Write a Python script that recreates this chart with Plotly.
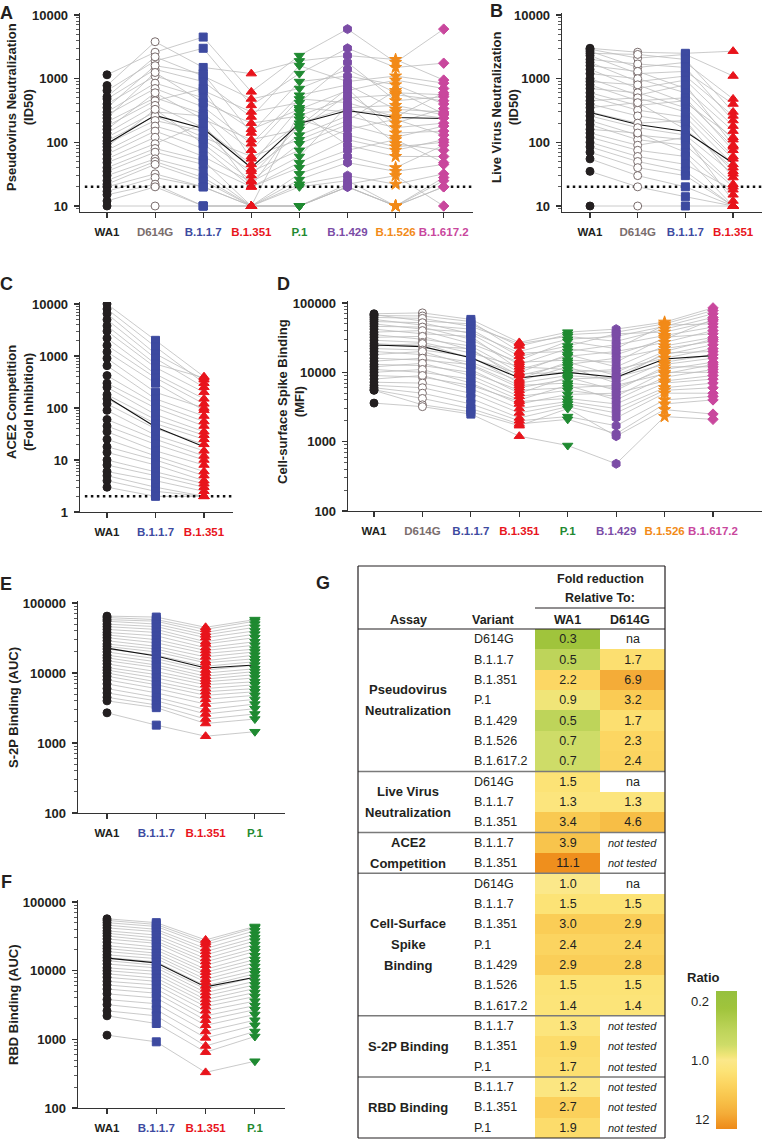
import math
import plotly.graph_objects as go

W, H = 762, 1139


def px_x(p):
    return p / W


def px_y(p):
    return 1 - p / H


# ---------------- data ----------------
pseudo_variants = ["WA1", "D614G", "B.1.1.7", "B.1.351", "P.1", "B.1.429", "B.1.526", "B.1.617.2"]
pseudo_rows = [
    [1150, 2600, 4500, 620, 2300, 6000, 1800, 6000],
    [780, 3800, 1500, 1200, 1900, 2300, 2000, 950],
    [650, 1900, 3000, 380, 1200, 3000, 1500, 1750],
    [520, 2200, 1100, 480, 700, 1400, 600, 560],
    [480, 1400, 900, 250, 1600, 900, 1100, 850],
    [400, 1100, 650, 300, 420, 1800, 450, 520],
    [350, 1600, 1200, 140, 900, 1100, 800, 400],
    [300, 850, 500, 160, 330, 650, 950, 700],
    [270, 700, 360, 95, 550, 800, 330, 300],
    [240, 1250, 420, 200, 260, 500, 560, 450],
    [210, 500, 280, 75, 480, 420, 250, 600],
    [180, 450, 700, 55, 200, 350, 380, 270],
    [160, 600, 230, 110, 160, 560, 200, 340],
    [140, 380, 170, 45, 350, 300, 300, 240],
    [120, 300, 260, 38, 130, 260, 170, 200],
    [105, 260, 120, 60, 110, 220, 650, 280],
    [95, 220, 150, 30, 180, 700, 140, 150],
    [85, 330, 95, 25, 95, 190, 120, 180],
    [75, 180, 110, 35, 75, 160, 230, 130],
    [65, 150, 80, 20, 230, 130, 85, 100],
    [55, 120, 60, 24, 60, 380, 95, 75],
    [48, 95, 200, 20, 48, 110, 75, 110],
    [40, 80, 52, 10, 300, 90, 60, 60],
    [35, 70, 45, 20, 40, 75, 110, 48],
    [30, 55, 35, 10, 32, 60, 40, 90],
    [25, 50, 28, 10, 26, 48, 35, 45],
    [22, 45, 25, 10, 22, 30, 22, 32],
    [20, 32, 20, 10, 20, 25, 10, 25],
    [17, 28, 20, 10, 10, 22, 30, 10],
    [15, 22, 10, 10, 10, 20, 10, 28],
    [12, 20, 10, 10, 10, 20, 10, 20],
    [10, 10, 10, 10, 10, 20, 10, 20],
]
pseudo_gm = [95, 265, 165, 40, 198, 316, 246, 237]

live_variants = ["WA1", "D614G", "B.1.1.7", "B.1.351"]
live_rows = [
    [3000, 2600, 2500, 2700],
    [2900, 2100, 2400, 1100],
    [2700, 1500, 1800, 480],
    [2500, 2400, 2000, 300],
    [2300, 1200, 1300, 400],
    [2000, 1700, 1500, 220],
    [1800, 900, 1100, 260],
    [1600, 1300, 700, 150],
    [1400, 700, 950, 180],
    [1200, 1000, 600, 110],
    [1000, 550, 800, 90],
    [900, 800, 420, 120],
    [800, 450, 500, 75],
    [700, 600, 350, 60],
    [600, 380, 450, 85],
    [520, 320, 250, 45],
    [450, 500, 300, 55],
    [400, 260, 200, 35],
    [350, 420, 160, 40],
    [300, 200, 220, 28],
    [260, 170, 130, 32],
    [220, 130, 110, 22],
    [190, 110, 90, 20],
    [160, 140, 70, 15],
    [140, 90, 120, 12],
    [120, 75, 60, 10],
    [100, 60, 45, 18],
    [85, 50, 35, 10],
    [70, 40, 30, 10],
    [55, 30, 20, 10],
    [35, 20, 14, 10],
    [10, 10, 10, 10],
]
live_gm = [295, 190, 148, 47]

ace2_variants = ["WA1", "B.1.1.7", "B.1.351"]
ace2_rows = [
    [10000, 2000, 400],
    [8000, 1500, 300],
    [6500, 1100, 350],
    [5000, 900, 250],
    [3800, 700, 380],
    [3000, 600, 200],
    [2200, 450, 150],
    [1600, 380, 120],
    [1200, 300, 90],
    [900, 200, 100],
    [650, 150, 70],
    [420, 120, 55],
    [300, 100, 45],
    [250, 75, 35],
    [180, 60, 30],
    [150, 50, 25],
    [120, 40, 20],
    [90, 30, 15],
    [60, 25, 12],
    [45, 20, 10],
    [35, 15, 8],
    [25, 12, 6],
    [18, 10, 5],
    [14, 8, 4],
    [10, 6, 3.5],
    [8, 5, 3],
    [6, 4, 2.5],
    [5, 3, 2],
    [4, 2.5, 2],
    [3, 2, 2],
]
ace2_gm = [163, 43, 18]

cell_variants = pseudo_variants
cell_rows = [
    [70000, 72000, 58000, 27000, 38000, 42000, 53000, 85000],
    [68000, 55000, 50000, 24000, 35000, 38000, 50000, 78000],
    [66000, 65000, 54000, 20000, 30000, 33000, 46000, 70000],
    [62000, 60000, 46000, 26000, 33000, 28000, 42000, 62000],
    [58000, 48000, 42000, 17000, 24000, 36000, 38000, 55000],
    [54000, 52000, 36000, 15000, 28000, 22000, 48000, 50000],
    [50000, 42000, 38000, 19000, 20000, 25000, 34000, 45000],
    [46000, 45000, 30000, 13000, 22000, 18000, 30000, 58000],
    [42000, 36000, 33000, 11000, 17000, 20000, 27000, 40000],
    [38000, 40000, 26000, 14000, 15000, 14000, 32000, 36000],
    [35000, 30000, 24000, 10000, 18000, 12000, 24000, 32000],
    [32000, 33000, 21000, 9000, 13000, 16000, 22000, 28000],
    [29000, 27000, 19000, 12000, 11000, 10000, 20000, 30000],
    [26000, 24000, 22000, 8000, 14000, 9000, 18000, 25000],
    [24000, 26000, 16000, 9500, 10000, 11000, 16000, 22000],
    [22000, 21000, 17000, 7000, 9000, 8000, 19000, 20000],
    [20000, 18000, 14000, 7500, 12000, 7000, 14000, 18000],
    [18000, 20000, 12500, 6000, 8000, 8500, 13000, 16000],
    [16000, 15000, 13000, 6500, 7000, 6000, 11000, 14000],
    [14500, 16000, 11000, 5000, 8500, 5500, 12000, 12000],
    [13000, 12500, 10000, 5500, 6000, 6500, 9500, 13000],
    [12000, 13500, 9000, 4500, 5500, 4500, 10000, 10000],
    [11000, 10000, 8000, 4000, 6500, 4000, 8500, 11000],
    [10000, 11000, 7000, 3500, 4800, 5000, 7500, 9000],
    [9000, 8500, 6500, 3800, 4200, 3500, 7000, 8000],
    [8000, 9000, 5800, 3000, 3800, 3000, 6000, 7000],
    [7200, 7000, 5000, 2600, 3500, 2600, 5500, 6000],
    [6500, 6000, 4200, 2200, 3200, 2200, 5000, 5000],
    [6000, 5000, 3500, 2000, 2300, 1700, 4000, 4500],
    [5600, 4200, 3000, 1800, 2100, 1300, 3500, 4000],
    [5500, 3400, 2700, 1700, 3000, 1200, 2900, 2500],
    [3600, 3200, 2500, 1200, 880, 480, 2300, 2100],
]
cell_gm = [24800, 23500, 16200, 8300, 10000, 8500, 15600, 17400]

s2p_variants = ["WA1", "B.1.1.7", "B.1.351", "P.1"]
s2p_rows = [
    [65000, 63000, 45000, 58000],
    [62000, 58000, 42000, 55000],
    [58000, 55000, 38000, 50000],
    [55000, 50000, 35000, 45000],
    [50000, 46000, 32000, 40000],
    [46000, 42000, 28000, 36000],
    [42000, 38000, 26000, 32000],
    [38000, 34000, 23000, 28000],
    [35000, 30000, 21000, 25000],
    [32000, 27000, 19000, 22000],
    [29000, 24000, 17000, 20000],
    [26000, 22000, 15000, 18000],
    [24000, 20000, 14000, 16000],
    [22000, 18000, 12500, 14500],
    [20000, 16000, 11000, 13000],
    [18000, 14500, 10000, 11500],
    [16500, 13000, 9000, 10500],
    [15000, 12000, 8200, 9500],
    [13500, 10500, 7500, 8500],
    [12000, 9500, 6800, 7500],
    [11000, 8500, 6000, 6800],
    [10000, 7500, 5400, 6000],
    [9000, 6800, 4800, 5400],
    [8000, 6000, 4200, 4800],
    [7000, 5200, 3600, 4200],
    [6000, 4500, 3000, 3600],
    [5200, 4000, 2600, 3100],
    [4500, 3500, 2200, 2600],
    [4000, 3200, 1900, 2200],
    [2700, 1800, 1250, 1450],
]
s2p_gm = [22700, 17500, 11800, 13000]

rbd_variants = ["WA1", "B.1.1.7", "B.1.351", "P.1"]
rbd_rows = [
    [57000, 50000, 28000, 44000],
    [54000, 47000, 26000, 42000],
    [50000, 44000, 24000, 38000],
    [46000, 40000, 21000, 34000],
    [42000, 37000, 19000, 30000],
    [38000, 33000, 17000, 27000],
    [35000, 30000, 15000, 24000],
    [32000, 27000, 13500, 21000],
    [29000, 25000, 12000, 19000],
    [26000, 22000, 10500, 16500],
    [23000, 20000, 9500, 14500],
    [21000, 18000, 8500, 13000],
    [19000, 16500, 7500, 11500],
    [17000, 15000, 6800, 10000],
    [15500, 13500, 6000, 9000],
    [14000, 12000, 5400, 8000],
    [12500, 11000, 4800, 7000],
    [11000, 9800, 4300, 6200],
    [10000, 8800, 3800, 5500],
    [9000, 7800, 3400, 4800],
    [8000, 7000, 3000, 4200],
    [7000, 6200, 2600, 3600],
    [6200, 5400, 2200, 3100],
    [5400, 4700, 1900, 2700],
    [4600, 4000, 1600, 2300],
    [3800, 3300, 1300, 1900],
    [3200, 2700, 1050, 1600],
    [2600, 2200, 800, 1300],
    [2200, 1700, 650, 1100],
    [1150, 920, 330, 480],
]
rbd_gm = [15200, 13000, 5800, 8000]

# table (panel G)
table_groups = [["Pseudovirus", "Neutralization"], ["Live Virus", "Neutralization"],
                ["ACE2", "Competition"], ["Cell-Surface", "Spike", "Binding"],
                ["S-2P Binding"], ["RBD Binding"]]
table_group_sizes = [7, 3, 2, 7, 3, 3]
table_variants = ["D614G", "B.1.1.7", "B.1.351", "P.1", "B.1.429", "B.1.526", "B.1.617.2",
                  "D614G", "B.1.1.7", "B.1.351",
                  "B.1.1.7", "B.1.351",
                  "D614G", "B.1.1.7", "B.1.351", "P.1", "B.1.429", "B.1.526", "B.1.617.2",
                  "B.1.1.7", "B.1.351", "P.1",
                  "B.1.1.7", "B.1.351", "P.1"]
ratio_wa1 = [0.3, 0.5, 2.2, 0.9, 0.5, 0.7, 0.7,
             1.5, 1.3, 3.4,
             3.9, 11.1,
             1.0, 1.5, 3.0, 2.4, 2.9, 1.5, 1.4,
             1.3, 1.9, 1.7,
             1.2, 2.7, 1.9]
ratio_d614g = ["na", 1.7, 6.9, 3.2, 1.7, 2.3, 2.4,
               "na", 1.3, 4.6,
               "not tested", "not tested",
               "na", 1.5, 2.9, 2.4, 2.8, 1.5, 1.4,
               "not tested", "not tested", "not tested",
               "not tested", "not tested", "not tested"]
ratio_color_stops = [(12, "rgb(238,138,24)"), (6.9, "rgb(244,172,56)"), (4.6, "rgb(247,190,70)"),
                     (3.0, "rgb(250,205,86)"), (2.2, "rgb(252,215,100)"), (1.5, "rgb(252,227,118)"),
                     (1.0, "rgb(251,232,138)"), (0.9, "rgb(240,229,120)"), (0.7, "rgb(206,220,104)"),
                     (0.5, "rgb(190,212,90)"), (0.3, "rgb(160,196,60)"), (0.2, "rgb(150,192,62)")]
ratio_ticks = ["0.2", "1.0", "12"]

# ---------------- styles ----------------
STYLE = {
    "WA1": dict(fill="#231f20", line="#231f20", symbol="circle", size=8, label="#231f20"),
    "D614G": dict(fill="white", line="#7a6d6d", symbol="circle", size=8, label="#7a6d6d"),
    "B.1.1.7": dict(fill="#3d4aa0", line="#3d4aa0", symbol="square", size=8, label="#3d4aa0"),
    "B.1.351": dict(fill="#e8141c", line="#e8141c", symbol="triangle-up", size=9, label="#e8141c"),
    "P.1": dict(fill="#1f8a31", line="#1f8a31", symbol="triangle-down", size=9, label="#1f8a31"),
    "B.1.429": dict(fill="#7b4ca6", line="#7b4ca6", symbol="hexagon", size=9, label="#7b4ca6"),
    "B.1.526": dict(fill="#f28a18", line="#f28a18", symbol="star", size=9, label="#f28a18"),
    "B.1.617.2": dict(fill="#c9479d", line="#c9479d", symbol="diamond", size=8, label="#c9479d"),
}
AX = "#333333"
FONT = "Arial, Liberation Sans, Helvetica, sans-serif"

panels = [
    dict(letter="A", letter_px=(6, 13), variants=pseudo_variants, rows=pseudo_rows, gm=pseudo_gm, lod=20,
         xpx=(80, 473), cat0=107, step=48.1, ypx=(13, 212), yr=(0.906, 4.031),
         title="Pseudovirus Neutralization<br>(ID50)", title_px=(20, 107)),
    dict(letter="B", letter_px=(496, 11), variants=live_variants, rows=live_rows, gm=live_gm, lod=20,
         xpx=(562, 762), cat0=590, step=47.7, ypx=(13, 212), yr=(0.906, 4.031),
         title="Live Virus Neutralization<br>(ID50)", title_px=(505, 107)),
    dict(letter="C", letter_px=(6, 284), variants=ace2_variants, rows=ace2_rows, gm=ace2_gm, lod=2,
         xpx=(80, 233), cat0=107, step=48.5, ypx=(302, 512), yr=(0.0, 4.038),
         title="ACE2 Competition<br>(Fold Inhibition)", title_px=(20, 402)),
    dict(letter="D", letter_px=(283, 284), variants=cell_variants, rows=cell_rows, gm=cell_gm, lod=None,
         xpx=(348, 762), cat0=374, step=48.43, ypx=(301, 511), yr=(2.0, 5.029),
         title="Cell-surface Spike Binding<br>(MFI)", title_px=(291, 402)),
    dict(letter="E", letter_px=(6, 584), variants=s2p_variants, rows=s2p_rows, gm=s2p_gm, lod=None,
         xpx=(78, 285), cat0=107, step=49.3, ypx=(601, 813), yr=(2.0, 5.029),
         title="S-2P Binding (AUC)", title_px=(13, 708)),
    dict(letter="F", letter_px=(6, 882), variants=rbd_variants, rows=rbd_rows, gm=rbd_gm, lod=None,
         xpx=(78, 285), cat0=107, step=49.3, ypx=(900, 1108), yr=(2.0, 5.029),
         title="RBD Binding (AUC)", title_px=(13, 1005)),
]

fig = go.Figure()
layout = dict(width=W, height=H, margin=dict(l=0, r=0, t=0, b=0), paper_bgcolor="white",
              plot_bgcolor="white", showlegend=False, font=dict(family=FONT, color="#231f20"))
annotations = []
shapes = []

for i, p in enumerate(panels):
    n = i + 1
    xa = "x" if n == 1 else f"x{n}"
    ya = "y" if n == 1 else f"y{n}"
    xr = ((p["xpx"][0] - p["cat0"]) / p["step"], (p["xpx"][1] - p["cat0"]) / p["step"])
    nv = len(p["variants"])
    # subject lines
    lx, ly = [], []
    for r in p["rows"]:
        lx += list(range(nv)) + [None]
        ly += list(r) + [None]
    fig.add_trace(go.Scatter(x=lx, y=ly, mode="lines", line=dict(color="#bdbdbd", width=0.8),
                             xaxis=xa, yaxis=ya, hoverinfo="skip"))
    if p["lod"] is not None:
        fig.add_trace(go.Scatter(x=[xr[0] + 0.1, xr[1]], y=[p["lod"], p["lod"]], mode="lines",
                                 line=dict(color="#111", width=2.5, dash="2.5px,3.5px"),
                                 xaxis=xa, yaxis=ya, hoverinfo="skip"))
    fig.add_trace(go.Scatter(x=list(range(nv)), y=p["gm"], mode="lines",
                             line=dict(color="#111", width=1.1), xaxis=xa, yaxis=ya))
    for j, v in enumerate(p["variants"]):
        st = STYLE[v]
        fig.add_trace(go.Scatter(x=[j] * len(p["rows"]), y=[r[j] for r in p["rows"]], mode="markers",
                                 marker=dict(symbol=st["symbol"], size=st["size"], color=st["fill"],
                                             line=dict(color=st["line"], width=1)),
                                 xaxis=xa, yaxis=ya, name=v))
    ticktext = [f"<span style='color:{STYLE[v]['label']}'>{v}</span>" for v in p["variants"]]
    layout["xaxis" if n == 1 else f"xaxis{n}"] = dict(
        domain=[px_x(p["xpx"][0]), px_x(p["xpx"][1])], range=list(xr), anchor=ya,
        tickmode="array", tickvals=list(range(nv)), ticktext=ticktext, tickangle=0,
        ticklabeloverflow="allow", automargin=False,
        showline=True, linecolor=AX, linewidth=1.3, ticks="outside", ticklen=5, tickwidth=1.2,
        tickcolor=AX, tickfont=dict(size=11.5, weight="bold", family=FONT), ticklabelstandoff=4,
        showgrid=False, zeroline=False)
    layout["yaxis" if n == 1 else f"yaxis{n}"] = dict(
        type="log", domain=[px_y(p["ypx"][1]), px_y(p["ypx"][0])], range=list(p["yr"]), anchor=xa,
        tickmode="linear", tick0=0, dtick=1, tickformat="d", automargin=False,
        showline=True, linecolor=AX, linewidth=1.3, ticks="outside", ticklen=5, tickwidth=1.2,
        tickcolor=AX, tickfont=dict(size=13, weight="bold", family=FONT, color="#231f20"),
        ticklabelstandoff=3,
        minor=dict(ticks="outside", ticklen=3, tickwidth=0.8, tickcolor=AX, dtick="D1", showgrid=False),
        showgrid=False, zeroline=False)
    annotations.append(dict(text=p["letter"], x=px_x(p["letter_px"][0]), y=px_y(p["letter_px"][1]),
                            xref="paper", yref="paper", showarrow=False, xanchor="center", yanchor="middle",
                            font=dict(size=18, weight="bold", family="Liberation Sans Narrow, " + FONT)))
    annotations.append(dict(text=p["title"], x=px_x(p["title_px"][0]), y=px_y(p["title_px"][1]),
                            xref="paper", yref="paper", showarrow=False, textangle=-90,
                            xanchor="center", yanchor="middle",
                            font=dict(size=13, weight="bold", family=FONT)))

# ---------------- table G ----------------
T_LEFT, T_RIGHT, T_TOP, T_HEAD, T_BOTTOM = 358, 665, 566, 629, 1138
C0, C1 = 535, 665
nrows = len(table_variants)
RH = (T_BOTTOM - T_HEAD) / nrows


def ratio_pos(r):
    if r <= 1:
        return 0.5 + 0.5 * math.log10(r) / math.log10(0.2)
    return 0.5 - 0.5 * math.log10(r) / math.log10(12)


colorscale = sorted([[ratio_pos(r), c] for r, c in ratio_color_stops])
z, txt = [], []
for a, b in zip(ratio_wa1, ratio_d614g):
    isnum = not isinstance(b, str)
    z.append([ratio_pos(a), ratio_pos(b) if isnum else None])
    txt.append([f"{a:.1f}", f"{b:.1f}" if isnum else ""])

fig.add_trace(go.Heatmap(z=z, x=[0, 1], y=list(range(nrows)), text=txt, texttemplate="%{text}",
                         textfont=dict(size=12.5, color="#231f20", family=FONT),
                         colorscale=colorscale, zmin=0, zmax=1, xaxis="x7", yaxis="y7",
                         hoverinfo="skip",
                         colorbar=dict(x=px_x(716), xanchor="left", xpad=0, y=px_y(991), yanchor="top",
                                       ypad=0, len=138, lenmode="pixels", thickness=21,
                                       thicknessmode="pixels", outlinewidth=0, showticklabels=False,
                                       ticks="")))
layout["xaxis7"] = dict(domain=[px_x(C0), px_x(C1)], range=[-0.5, 1.5], visible=False, anchor="y7")
layout["yaxis7"] = dict(domain=[px_y(T_BOTTOM), px_y(T_HEAD)], range=[nrows - 0.5, -0.5], visible=False,
                        anchor="x7")

for i, b in enumerate(ratio_d614g):
    if isinstance(b, str):
        it = b != "na"
        annotations.append(dict(text=f"<i>{b}</i>" if it else b, x=1, y=i, xref="x7", yref="y7",
                                showarrow=False, font=dict(size=11 if it else 12.5, family=FONT, color="#231f20")))


def row_y(i):
    return T_HEAD + (i + 0.5) * RH


for i, v in enumerate(table_variants):
    annotations.append(dict(text=v, x=px_x(472), y=px_y(row_y(i)), xref="paper", yref="paper",
                            showarrow=False, xanchor="left", yanchor="middle",
                            font=dict(size=12.5, family=FONT, color="#231f20")))

start = 0
for lines, size in zip(table_groups, table_group_sizes):
    center = T_HEAD + (start + size / 2) * RH
    k = len(lines)
    for j, t in enumerate(lines):
        yy = center + (j - (k - 1) / 2) * 20.7
        annotations.append(dict(text=t, x=px_x(408), y=px_y(yy), xref="paper", yref="paper",
                                showarrow=False, xanchor="center", yanchor="middle",
                                font=dict(size=13, weight="bold", family=FONT, color="#231f20")))
    start += size
    if start < nrows:
        yl = px_y(T_HEAD + start * RH)
        shapes.append(dict(type="line", xref="paper", yref="paper", x0=px_x(T_LEFT), x1=px_x(T_RIGHT),
                           y0=yl, y1=yl, line=dict(color="#7a7a7a", width=1.5)))

head = [("Fold reduction", 600, 579), ("Relative To:", 600, 598), ("Assay", 408, 620),
        ("Variant", 493, 620), ("WA1", 567, 620), ("D614G", 630, 620)]
for t, x, y in head:
    annotations.append(dict(text=t, x=px_x(x), y=px_y(y), xref="paper", yref="paper", showarrow=False,
                            xanchor="center", yanchor="middle",
                            font=dict(size=12.5, weight="bold", family=FONT, color="#231f20")))
annotations.append(dict(text="G", x=px_x(323), y=px_y(583), xref="paper", yref="paper", showarrow=False,
                        font=dict(size=18, weight="bold", family="Liberation Sans Narrow, " + FONT)))

for (x0, y0, x1, y1, w) in [(T_LEFT, T_TOP, T_RIGHT, T_TOP, 1.2), (T_LEFT, T_BOTTOM, T_RIGHT, T_BOTTOM, 1.2),
                            (T_LEFT, T_TOP, T_LEFT, T_BOTTOM, 1.2), (T_RIGHT, T_TOP, T_RIGHT, T_BOTTOM, 1.2),
                            (C0, 608, T_RIGHT, 608, 1), (T_LEFT, T_HEAD, T_RIGHT, T_HEAD, 1.2)]:
    shapes.append(dict(type="line", xref="paper", yref="paper", x0=px_x(x0), x1=px_x(x1),
                       y0=px_y(y0), y1=px_y(y1), line=dict(color="#231f20", width=w)))

# colour bar labels
annotations.append(dict(text="Ratio", x=px_x(685), y=px_y(977), xref="paper", yref="paper",
                        showarrow=False, xanchor="left", yanchor="middle",
                        font=dict(size=13, weight="bold", family=FONT, color="#231f20")))
for t, yy in zip(ratio_ticks, [1001, 1060, 1119]):
    annotations.append(dict(text=t, x=px_x(711), y=px_y(yy), xref="paper", yref="paper",
                            showarrow=False, xanchor="right", yanchor="middle",
                            font=dict(size=13, family=FONT, color="#231f20")))

layout["annotations"] = annotations
layout["shapes"] = shapes
fig.update_layout(**layout)
fig.write_html("out.html",
               config=dict(displayModeBar=False, staticPlot=True),
               post_script="document.body.style.margin='0';document.body.style.padding='0';"
                           "document.documentElement.style.overflow='hidden';")
